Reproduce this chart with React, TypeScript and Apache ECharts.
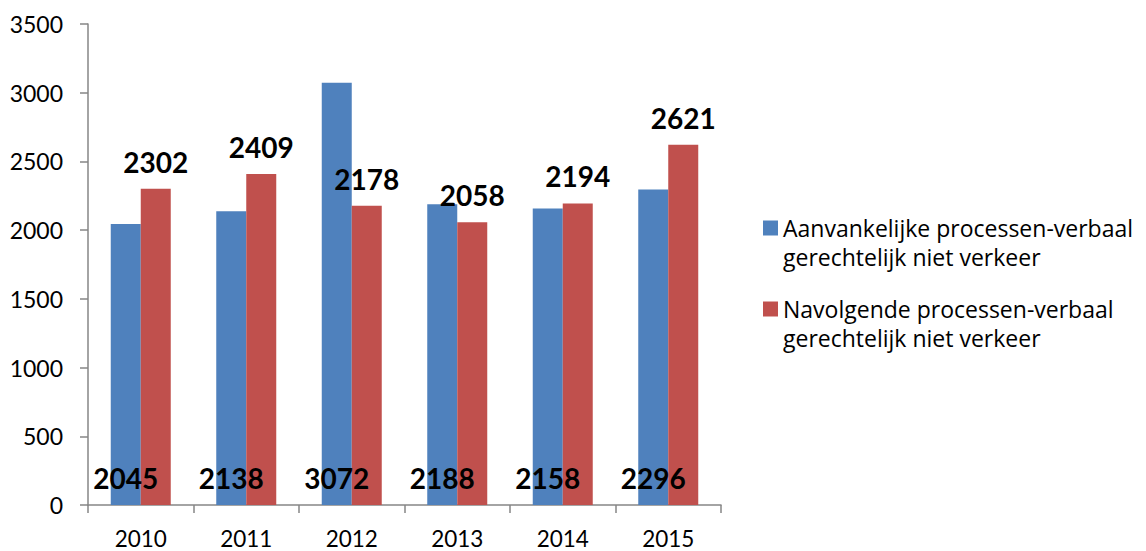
import React, { useEffect, useRef } from "react";
import * as echarts from "echarts";

const categories = ["2010", "2011", "2012", "2013", "2014", "2015"];
const seriesNames = [
  "Aanvankelijke processen-verbaal gerechtelijk niet verkeer",
  "Navolgende processen-verbaal gerechtelijk niet verkeer",
];
const aanvankelijk = [2045, 2138, 3072, 2188, 2158, 2296];
const navolgend = [2302, 2409, 2178, 2058, 2194, 2621];
const legendLines: Record<string, string> = {
  [seriesNames[0]]: " \nAanvankelijke processen-verbaal\ngerechtelijk niet verkeer",
  [seriesNames[1]]: " \nNavolgende processen-verbaal\ngerechtelijk niet verkeer",
};

const FONT = "Lato, 'Open Sans', sans-serif";
const LEGEND_FONT = "'Open Sans', Lato, sans-serif";
const AXIS = "#868686";

export default function App() {
  const ref = useRef<HTMLDivElement>(null);
  useEffect(() => {
    if (!ref.current) return;
    const chart = echarts.init(ref.current, undefined, { renderer: "svg" });
    const legendBase = {
      orient: "vertical",
      left: 763,
      padding: 0,
      itemWidth: 15,
      itemHeight: 15,
      icon: "rect",
      formatter: (n: string) => legendLines[n] || n,
      textStyle: {
        fontFamily: LEGEND_FONT,
        fontSize: 23,
        color: "#000",
        lineHeight: 29,
      },
      selectedMode: false,
    };
    chart.setOption({
      animation: false,
      textStyle: { fontFamily: FONT },
      grid: { left: 88, right: 425, top: 24, bottom: 46, containLabel: false },
      legend: [
        { ...legendBase, top: 184.5, data: [seriesNames[0]] },
        { ...legendBase, top: 265.5, data: [seriesNames[1]] },
      ],
      xAxis: {
        type: "category",
        data: categories,
        axisLine: { show: true, lineStyle: { color: AXIS, width: 1.5 } },
        axisTick: { show: true, length: 8, lineStyle: { color: AXIS, width: 1.5 } },
        axisLabel: {
          fontFamily: FONT,
          fontSize: 22.5,
          lineHeight: 22,
          color: "#000",
          margin: 22,
        },
      },
      yAxis: {
        type: "value",
        min: 0,
        max: 3500,
        interval: 500,
        axisLine: { show: true, lineStyle: { color: AXIS, width: 1.5 } },
        axisTick: { show: true, length: 8, lineStyle: { color: AXIS, width: 1.5 } },
        splitLine: { show: false },
        axisLabel: {
          fontFamily: FONT,
          fontSize: 23,
          color: "#000",
          margin: 25,
          formatter: (v: number) => String(v),
        },
      },
      series: [
        {
          name: seriesNames[0],
          type: "bar",
          data: aanvankelijk,
          barWidth: 30,
          barGap: "0%",
          itemStyle: { color: "#4F81BD" },
          label: {
            show: true,
            position: "insideBottom",
            distance: 13,
            fontFamily: FONT,
            fontSize: 28,
            fontWeight: "bold",
            color: "#000",
          },
        },
        {
          name: seriesNames[1],
          type: "bar",
          data: navolgend,
          barWidth: 30,
          barGap: "0%",
          itemStyle: { color: "#C0504D" },
          label: {
            show: true,
            position: "top",
            distance: 13,
            fontFamily: FONT,
            fontSize: 28,
            fontWeight: "bold",
            color: "#000",
          },
        },
      ],
    });
    return () => chart.dispose();
  }, []);
  return (
    <div
      ref={ref}
      style={{ position: "fixed", left: 0, top: 0, width: 1146, height: 551, background: "#fff" }}
    />
  );
}
